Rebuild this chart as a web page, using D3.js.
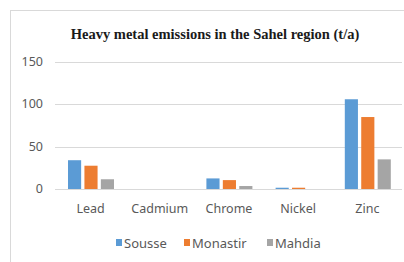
<!DOCTYPE html>
<html>
<head>
<meta charset="utf-8">
<script src="https://cdn.jsdelivr.net/npm/d3@7"></script>
<style>
  body { margin: 0; background: #fff; }
  text { font-family: "Noto Sans", "Open Sans", sans-serif; }
</style>
</head>
<body>
<svg width="404" height="262"></svg>
<script>
const metals = ["Lead", "Cadmium", "Chrome", "Nickel", "Zinc"];
const cities = ["Sousse", "Monastir", "Mahdia"];
const sousse = [34, 0, 12.5, 1.5, 106];
const monastir = [27.5, 0, 10.5, 1.5, 85];
const mahdia = [11.5, 0, 3.5, 0, 35];
const yTicks = [0, 50, 100, 150];
const colors = ["#5b9bd5", "#ed7d31", "#a5a5a5"];

const series = [sousse, monastir, mahdia];

const svg = d3.select("svg");

// chart frame
svg.append("rect")
    .attr("x", 10.5).attr("y", 10.5)
    .attr("width", 420).attr("height", 280)
    .attr("fill", "none")
    .attr("stroke", "#d9d9d9");

svg.append("text")
    .attr("x", 215).attr("y", 39)
    .attr("text-anchor", "middle")
    .style("font-family", "'Liberation Serif', 'Times New Roman', serif")
    .style("font-weight", "bold")
    .style("font-size", "14.5px")
    .attr("fill", "#1a1a1a")
    .text("Heavy metal emissions in the Sahel region (t/a)");

const x = d3.scaleBand().domain(metals).range([56, 402]);
const xs = d3.scaleBand().domain(cities).range([12, 58]).paddingInner(0.2);
const y = d3.scaleLinear().domain([0, 150]).range([189, 62]);

const grid = svg.append("g");
grid.selectAll("line")
    .data(yTicks)
    .enter().append("line")
    .attr("x1", 55).attr("x2", 402)
    .attr("y1", d => Math.round(y(d)) + 0.5)
    .attr("y2", d => Math.round(y(d)) + 0.5)
    .attr("stroke", "#d9d9d9");

svg.append("g").selectAll("text")
    .data(yTicks)
    .enter().append("text")
    .attr("x", 43).attr("y", d => y(d) + 4)
    .attr("text-anchor", "end")
    .attr("fill", "#595959")
    .style("font-size", "12.5px")
    .text(d => d);

const groups = svg.append("g").selectAll("g")
    .data(metals)
    .enter().append("g")
    .attr("transform", d => `translate(${x(d)},0)`);

groups.selectAll("rect")
    .data((m, i) => cities.map((c, j) => ({city: c, v: series[j][i], j})))
    .enter().append("rect")
    .attr("x", d => xs(d.city))
    .attr("width", xs.bandwidth())
    .attr("y", d => y(d.v))
    .attr("height", d => y(0) - y(d.v))
    .attr("fill", d => colors[d.j]);

svg.append("g").selectAll("text")
    .data(metals)
    .enter().append("text")
    .attr("x", d => x(d) + x.bandwidth() / 2)
    .attr("y", 213)
    .attr("text-anchor", "middle")
    .attr("fill", "#595959")
    .style("font-size", "12.5px")
    .text(d => d);

// legend
const legendX = [116, 184, 267];
const legend = svg.append("g").selectAll("g")
    .data(cities)
    .enter().append("g")
    .attr("transform", (d, i) => `translate(${legendX[i]},248)`);
legend.append("rect")
    .attr("x", 0).attr("y", -9)
    .attr("width", 6).attr("height", 7)
    .attr("fill", (d, i) => colors[i]);
legend.append("text")
    .attr("x", 8).attr("y", 0)
    .attr("fill", "#595959")
    .style("font-size", "13px")
    .text(d => d);
</script>
</body>
</html>
